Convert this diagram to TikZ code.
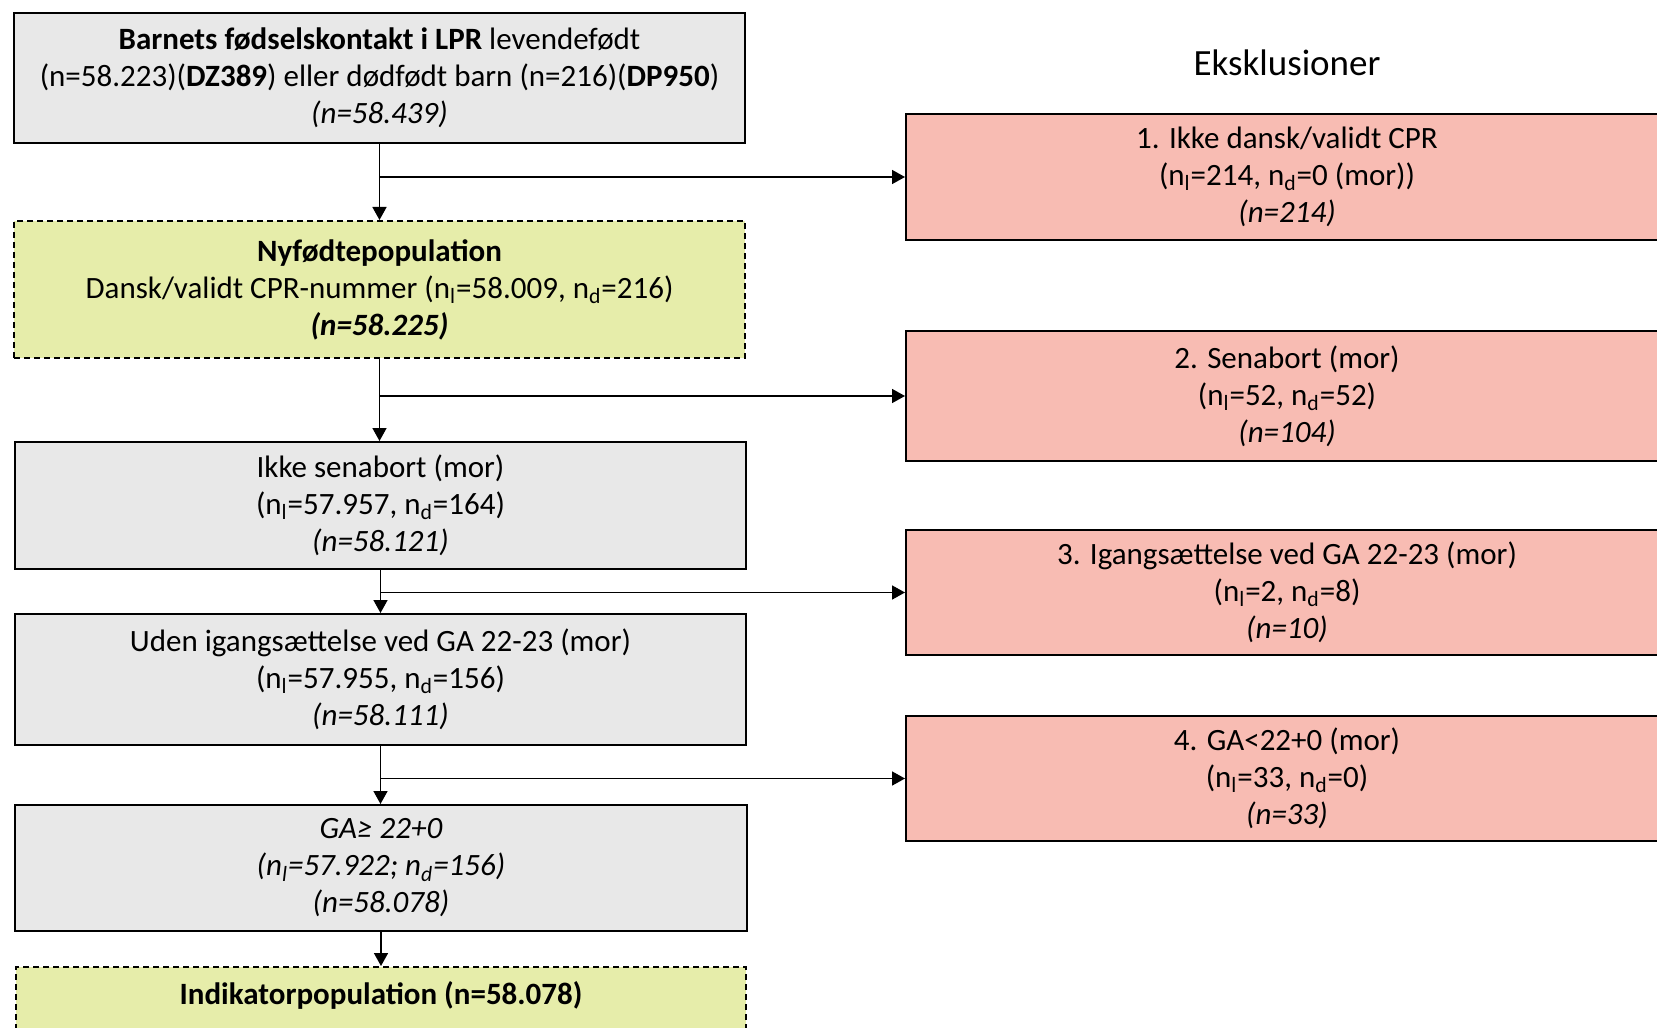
\documentclass[tikz,border=0pt]{standalone}
\usepackage{fontspec}
\setmainfont{Carlito}
\usetikzlibrary{arrows.meta}
\definecolor{boxgray}{HTML}{E8E8E8}
\definecolor{boxgreen}{HTML}{E6EDAA}
\definecolor{boxpink}{HTML}{F8BCB3}
\newcommand{\nl}{n\textsubscript{l}}
\newcommand{\nd}{n\textsubscript{d}}
\tikzset{
  basebox/.style={draw=black, line width=1pt, align=center, inner sep=0pt,
    font=\fontsize{15.5}{18.5}\selectfont},
  graybox/.style={basebox, fill=boxgray},
  greenbox/.style={basebox, fill=boxgreen, dash pattern=on 3pt off 2pt},
  pinkbox/.style={basebox, fill=boxpink},
  arr/.style={draw=black, line width=0.8pt, -{Triangle[length=6.5pt,width=7pt]}},
  ln/.style={draw=black, line width=0.8pt},
}
\begin{document}
\begin{tikzpicture}[x=0.5pt,y=-0.5pt]
\useasboundingbox (0,0) rectangle (1657,1027);
\clip (0,0) rectangle (1657,1027);

\node[graybox, minimum width=365.5pt, minimum height=65pt] (A) at (379.5,78)
  {\textbf{Barnets fødselskontakt i LPR} levendefødt\\
   (n=58.223)(\textbf{DZ389}) eller dødfødt barn (n=216)(\textbf{DP950})\\
   \textit{(n=58.439)}};

\node[greenbox, minimum width=365.5pt, minimum height=68.5pt] (B) at (379.5,289.5)
  {\textbf{Nyfødtepopulation}\\
   Dansk/validt CPR-nummer (\nl=58.009, \nd=216)\\
   \textbf{\textit{(n=58.225)}}};

\node[graybox, minimum width=365.5pt, minimum height=63.5pt] (C) at (380.5,505.5)
  {Ikke senabort (mor)\\
   (\nl=57.957, \nd=164)\\
   \textit{(n=58.121)}};

\node[graybox, minimum width=365.5pt, minimum height=65.5pt] (D) at (380.5,679.5)
  {Uden igangsættelse ved GA 22-23 (mor)\\
   (\nl=57.955, \nd=156)\\
   \textit{(n=58.111)}};

\node[graybox, minimum width=366pt, minimum height=63pt] (E) at (381,868)
  {\textit{GA≥ 22+0}\\
   \textit{(\nl=57.922; \nd=156)}\\
   \textit{(n=58.078)}};

\node[greenbox, anchor=north, minimum width=365pt, text height=15.5pt, text depth=60pt, inner ysep=3pt] (F) at (381,966)
  {\textbf{Indikatorpopulation (n=58.078)}};

\node[font=\fontsize{18.5}{22}\selectfont] (T) at (1287,63) {Eksklusioner};

\node[pinkbox, minimum width=381pt, minimum height=63pt] (R1) at (1287,177)
  {1. Ikke dansk/validt CPR\\
   (\nl=214, \nd=0 (mor))\\
   \textit{(n=214)}};

\node[pinkbox, minimum width=381pt, minimum height=65pt] (R2) at (1287,396)
  {2. Senabort (mor)\\
   (\nl=52, \nd=52)\\
   \textit{(n=104)}};

\node[pinkbox, minimum width=381pt, minimum height=62.5pt] (R3) at (1287,592.5)
  {3. Igangsættelse ved GA 22-23 (mor)\\
   (\nl=2, \nd=8)\\
   \textit{(n=10)}};

\node[pinkbox, minimum width=381pt, minimum height=62.5pt] (R4) at (1287,778.5)
  {4. GA<22+0 (mor)\\
   (\nl=33, \nd=0)\\
   \textit{(n=33)}};

\draw[arr] (A.south) -- (A.south |- B.north);
\draw[arr] (A.south |- R1.west) -- (R1.west);
\draw[arr] (B.south) -- (B.south |- C.north);
\draw[arr] (B.south |- R2.west) -- (R2.west);
\draw[arr] (C.south) -- (C.south |- D.north);
\draw[arr] (C.south |- R3.west) -- (R3.west);
\draw[arr] (D.south) -- (D.south |- E.north);
\draw[arr] (D.south |- R4.west) -- (R4.west);
\draw[arr] (E.south) -- (E.south |- F.north);
\end{tikzpicture}
\end{document}
